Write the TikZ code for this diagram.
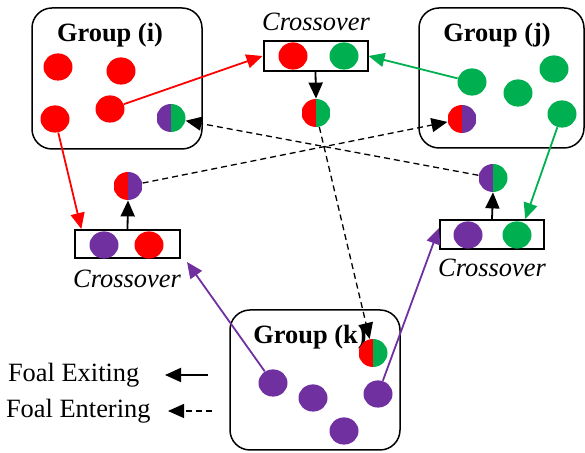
\documentclass[tikz,border=0pt]{standalone}
\usepackage{fontspec}
\setmainfont{Liberation Serif}
\usetikzlibrary{arrows.meta,shapes.geometric}
\definecolor{cred}{HTML}{FF0000}
\definecolor{cgreen}{HTML}{00B050}
\definecolor{cpurple}{HTML}{7030A0}
\begin{document}
\begin{tikzpicture}[x=0.5pt,y=-0.5pt,
  every node/.style={font=\fontsize{13.2}{15}\selectfont},
  dot/.style={ellipse, fill=#1, minimum width=14.5pt, minimum height=13.6pt, inner sep=0pt},
  mix/.style 2 args={ellipse, minimum width=14.5pt, minimum height=14pt, inner sep=0pt,
    path picture={\fill[#1] (path picture bounding box.south west) rectangle (path picture bounding box.north);
                  \fill[#2] (path picture bounding box.south) rectangle (path picture bounding box.north east);}},
  groupbox/.style={draw, line width=0.75pt, rounded corners=10pt, inner sep=0pt},
  crossbox/.style={draw, line width=1pt, inner sep=0pt},
  grouplabel/.style={font=\fontsize{13.2}{15}\selectfont\bfseries},
  crosslabel/.style={font=\fontsize{13.2}{15}\selectfont\itshape},
  tip/.style={-{Triangle[length=8pt,width=7pt]}},
  link/.style={tip, line width=0.9pt, draw=#1},
  entering/.style={tip, line width=0.65pt, dash pattern=on 3pt off 2pt}
]
\useasboundingbox (0,0) rectangle (585,453);

% group boxes
\node[groupbox, minimum width=85pt, minimum height=70.5pt] (gi) at (117,78.5) {};
\node[groupbox, minimum width=82.5pt, minimum height=70pt] (gj) at (501.5,78) {};
\node[groupbox, minimum width=85pt, minimum height=70pt] (gk) at (315,380) {};
\node[grouplabel] (gil) at (110,35) {Group (i)};
\node[grouplabel] (gjl) at (497,35) {Group (j)};
\node[grouplabel] (gkl) at (310,337) {Group (k)};

% crossover boxes
\node[crossbox, minimum width=52pt, minimum height=15pt] (cxt) at (315.5,56) {};
\node[crossbox, minimum width=52.5pt, minimum height=14pt] (cxl) at (127.5,244) {};
\node[crossbox, minimum width=52pt, minimum height=14.5pt] (cxr) at (492,234.5) {};
\node[crosslabel] (cxtl) at (316,22) {Crossover};
\node[crosslabel] (cxll) at (127,279) {Crossover};
\node[crosslabel] (cxrl) at (492,268) {Crossover};

% group i
\node[dot=cred] (i1) at (58,67) {};
\node[dot=cred] (i2) at (121,71) {};
\node[dot=cred] (i3) at (55,119) {};
\node[dot=cred] (i4) at (110,109) {};
\node[mix={cpurple}{cgreen}] (im) at (171,118) {};

% group j
\node[dot=cgreen] (j1) at (472,82) {};
\node[dot=cgreen] (j2) at (518,93) {};
\node[dot=cgreen] (j3) at (554,69) {};
\node[dot=cgreen] (j4) at (562,114) {};
\node[mix={cred}{cpurple}] (jm) at (462,119) {};

% group k
\node[dot=cpurple] (k1) at (273,383) {};
\node[dot=cpurple] (k2) at (313,398) {};
\node[dot=cpurple] (k3) at (344,431) {};
\node[dot=cpurple] (k4) at (378,394) {};
\node[mix={cred}{cgreen}] (km) at (373,353) {};

% crossover contents
\node[dot=cred] (ct1) at (293,56) {};
\node[dot=cgreen] (ct2) at (344,56) {};
\node[dot=cpurple] (cl1) at (104,245) {};
\node[dot=cred] (cl2) at (149,245) {};
\node[dot=cpurple] (cr1) at (468,235) {};
\node[dot=cgreen] (cr2) at (517,235) {};

% offspring
\node[mix={cred}{cgreen}] (mixt) at (316,113) {};
\node[mix={cred}{cpurple}] (mixl) at (128,186) {};
\node[mix={cpurple}{cgreen}] (mixr) at (493,178) {};

% exiting (solid) links
\draw[link=cred] (i4) -- (cxt.west);
\draw[link=cred] (i3) -- (cxl.162);
\draw[link=cgreen] (j1) -- (cxt.east);
\draw[link=cgreen] (j4) -- (cxr.25);
\coordinate (pk1) at (187,262);
\draw[link=cpurple] (k1) -- (pk1);
\draw[link=cpurple] (k4) -- (cxr.173);

% crossover outputs
\draw[link=black] (cxt.south) -- (mixt.north);
\draw[link=black] (cxl.north) -- (mixl.south);
\draw[link=black] (cxr.north) -- (mixr.south);

% entering (dashed) links
\draw[entering] (mixl) -- (jm);
\draw[entering] (mixr) -- (im);
\draw[entering] (mixt) -- (km);

% legend
\node[anchor=west] (lex) at (1,375) {Foal Exiting};
\node[anchor=west] (len) at (-1,411) {Foal Entering};
\coordinate (lexa) at (208,375);
\coordinate (lexb) at (165,375);
\coordinate (lena) at (212,411);
\coordinate (lenb) at (168,411);
\draw[tip, line width=0.9pt] (lexa) -- (lexb);
\draw[entering] (lena) -- (lenb);
\end{tikzpicture}
\end{document}
